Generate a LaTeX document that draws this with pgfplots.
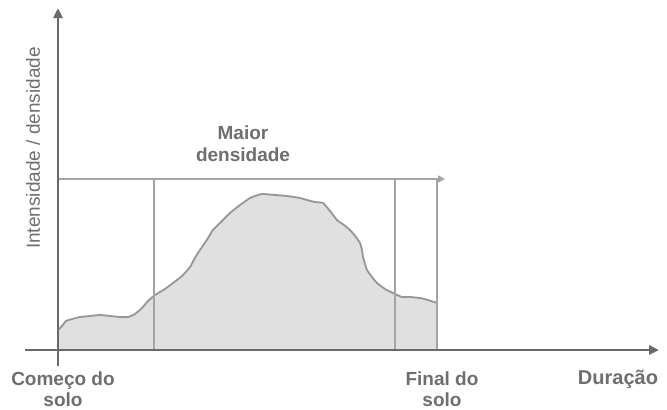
\documentclass[border=0pt]{standalone}
\usepackage{pgfplots}
\pgfplotsset{compat=1.18}
\usepackage{fontspec}
\setmainfont{Liberation Sans}
\usetikzlibrary{arrows.meta}
\definecolor{axgray}{HTML}{6A6A6A}
\definecolor{boxgray}{HTML}{A4A4A4}
\definecolor{curvegray}{HTML}{969696}
\definecolor{fillgray}{HTML}{E0E0E0}
\definecolor{txtgray}{HTML}{6E6E6E}
\begin{document}
\begin{tikzpicture}
\begin{axis}[width=667pt, height=409pt, scale only axis,
  xmin=0, xmax=667, ymin=0, ymax=409, y dir=reverse,
  hide axis, clip=false]
\addplot[draw=none] coordinates {(0,0) (667,409)};
% filled area
\addplot[fill=fillgray, draw=none] coordinates {
(58,330) (62,326) (66,321) (72,319) (80,317) (90,316) (100,315) (110,316) (120,317) (128,317) (135,314) (142,308) (148,301) (155,295) (165,289) (173,283) (182,276) (190,267) (196,256) (202,247) (208,238) (213,230) (222,221) (230,213) (240,205) (250,198) (258,195) (263,194) (275,195) (287,196) (300,198) (307,200) (315,202) (323,203) (330,211) (337,220) (344,225) (350,230) (356,237) (360,243) (362,250) (363,257) (365,264) (367,270) (372,277) (377,283) (385,289) (393,293) (402,297) (410,297) (420,298) (428,300) (437,303) (437,350) (58,350)} -- cycle;
% curve outline
\addplot[draw=curvegray, line width=1.8pt, smooth, tension=0.3] coordinates {
(58,330) (62,326) (66,321) (72,319) (80,317) (90,316) (100,315) (110,316) (120,317) (128,317) (135,314) (142,308) (148,301) (155,295) (165,289) (173,283) (182,276) (190,267) (196,256) (202,247) (208,238) (213,230) (222,221) (230,213) (240,205) (250,198) (258,195) (263,194) (275,195) (287,196) (300,198) (307,200) (315,202) (323,203) (330,211) (337,220) (344,225) (350,230) (356,237) (360,243) (362,250) (363,257) (365,264) (367,270) (372,277) (377,283) (385,289) (393,293) (402,297) (410,297) (420,298) (428,300) (437,303)};
% vertical box lines
\addplot[draw=boxgray, line width=2.4pt] coordinates {(154,179) (154,350)};
\addplot[draw=boxgray, line width=2.4pt] coordinates {(395,179) (395,350)};
\addplot[draw=boxgray, line width=2.4pt] coordinates {(437,179) (437,350)};
% horizontal arrow
\addplot[draw=boxgray, line width=2.6pt, -{Triangle[length=7pt,width=7pt]}] coordinates {(58,179) (445,179)};
% axes
\addplot[draw=axgray, line width=2.8pt, -{Triangle[length=10pt,width=9pt]}] coordinates {(58,366) (58,8)};
\addplot[draw=axgray, line width=2.8pt, -{Triangle[length=10pt,width=9pt]}] coordinates {(25,350) (659,350)};
% labels
\node[rotate=90, text=txtgray, font=\fontsize{19}{22}\selectfont] at (axis cs:33,148) {Intensidade / densidade};
\node[text=txtgray, font=\fontsize{19}{22}\selectfont\bfseries, align=center] at (axis cs:243,144) {Maior\\densidade};
\node[text=txtgray, font=\fontsize{19}{21}\selectfont\bfseries, align=center] at (axis cs:63,389) {Começo do\\solo};
\node[text=txtgray, font=\fontsize{19}{21}\selectfont\bfseries, align=center] at (axis cs:442,389) {Final do\\solo};
\node[text=txtgray, font=\fontsize{20}{22}\selectfont\bfseries] at (axis cs:618,379) {Duração};
\end{axis}
\end{tikzpicture}
\end{document}
